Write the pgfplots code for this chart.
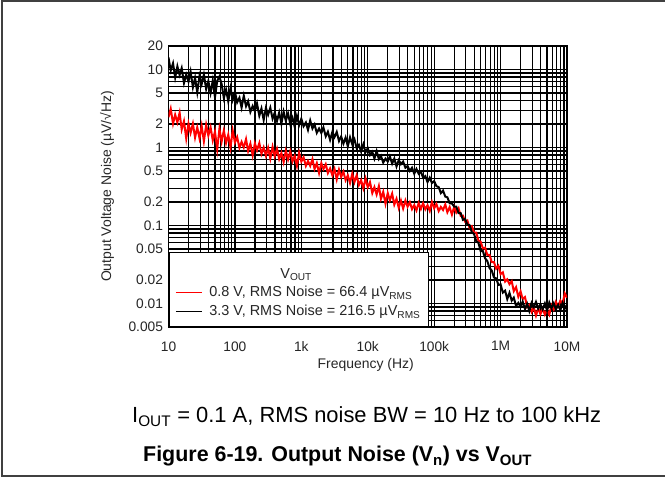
\documentclass[border=0pt]{standalone}
\usepackage{fontspec}
\setmainfont{Liberation Sans}
\usepackage{pgfplots}
\usepackage{pgfplotstable}
\pgfplotsset{compat=1.18}

% f (Hz), b = 3.3 V, r = 0.8 V  (uV/rtHz)
\pgfplotstableread{
f b r
10 14.2 2.44
10.8 9.7 3.13
11.7 12.0 2.02
12.6 7.9 2.63
13.6 11.0 2.10
14.7 8.5 2.79
15.8 10.4 1.70
17.1 6.7 2.17
18.5 8.6 1.30
20.0 7.0 2.02
21.5 9.4 1.54
23.3 5.9 2.02
25.1 7.8 1.34
27.1 5.1 1.81
29.3 8.3 1.31
31.6 6.5 1.89
34.1 8.6 1.20
36.9 5.6 1.95
39.8 7.1 1.42
43.0 5.0 1.82
46.4 7.2 1.23
50.1 4.4 1.60
54.1 7.1 0.95
58.4 8.1 1.73
63.1 6.5 1.19
68.1 4.3 1.65
73.6 5.5 1.14
79.4 3.9 1.46
85.8 5.8 1.00
92.6 4.1 1.65
100 5.2 1.16
108 3.79 1.36
117 4.34 0.99
126 3.25 1.18
136 4.6 1.00
147 3.38 1.28
158 3.92 0.90
171 2.85 1.12
185 3.4 0.79
200 2.92 1.13
215 3.66 0.92
233 2.55 1.14
251 3.16 0.83
271 2.25 1.00
293 3.22 0.78
316 2.63 0.99
341 3.23 0.72
369 2.34 1.02
398 2.8 0.77
430 2.18 0.96
464 2.8 0.71
501 2.02 0.85
541 2.88 0.65
584 2.2 0.91
631 2.73 0.70
681 2.0 0.89
736 2.4 0.66
794 1.85 0.78
858 2.53 0.58
926 1.93 0.86
1000 2.33 0.66
1080 1.87 0.75
1170 2.09 0.58
1260 1.68 0.67
1360 2.22 0.58
1470 1.75 0.71
1580 1.97 0.53
1710 1.54 0.63
1850 1.75 0.47
2000 1.53 0.63
2150 1.81 0.53
2330 1.39 0.61
2510 1.59 0.47
2710 1.25 0.54
2930 1.58 0.44
3160 1.36 0.53
3410 1.58 0.39
3690 1.21 0.52
3980 1.38 0.42
4300 1.12 0.49
4640 1.34 0.38
5010 1.04 0.44
5410 1.35 0.35
5840 1.10 0.46
6310 1.27 0.36
6810 0.98 0.44
7360 1.08 0.33
7940 0.89 0.38
8580 1.10 0.30
9260 0.87 0.40
10000 0.98 0.31
10800 0.80 0.36
11700 0.88 0.26
12600 0.72 0.31
13600 0.90 0.25
14700 0.71 0.32
15800 0.78 0.22
17100 0.64 0.27
18500 0.72 0.19
20000 0.66 0.26
21500 0.77 0.21
23300 0.62 0.256
25100 0.72 0.185
27100 0.57 0.22
29300 0.69 0.168
31600 0.61 0.209
34100 0.66 0.165
36900 0.55 0.209
39800 0.58 0.174
43000 0.50 0.199
46400 0.55 0.162
50100 0.46 0.183
54100 0.53 0.156
58400 0.46 0.194
63100 0.49 0.163
68100 0.41 0.193
73600 0.43 0.161
79400 0.36 0.182
85800 0.41 0.154
92600 0.35 0.20
100000 0.37 0.166
108000 0.32 0.189
117000 0.31 0.153
126000 0.26 0.173
136000 0.28 0.158
147000 0.235 0.186
158000 0.23 0.148
171000 0.193 0.172
185000 0.192 0.138
200000 0.175 0.173
215000 0.175 0.147
233000 0.144 0.166
251000 0.144 0.133
271000 0.118 0.134
293000 0.121 0.112
316000 0.103 0.116
341000 0.101 0.093
369000 0.082 0.098
398000 0.078 0.081
430000 0.063 0.081
464000 0.060 0.064
501000 0.047 0.062
541000 0.047 0.051
584000 0.038 0.052
631000 0.035 0.042
681000 0.0285 0.042
736000 0.0265 0.034
794000 0.0216 0.034
858000 0.021 0.028
926000 0.0173 0.0305
1e6 0.0176 0.0238
1.08e6 0.0138 0.0251
1.17e6 0.0146 0.0191
1.26e6 0.0114 0.0204
1.36e6 0.0137 0.0177
1.47e6 0.0109 0.0193
1.58e6 0.0119 0.0144
1.71e6 0.0093 0.0162
1.85e6 0.0102 0.0122
2.00e6 0.0091 0.0143
2.15e6 0.0106 0.0114
2.33e6 0.0085 0.0121
2.51e6 0.0099 0.0090
2.71e6 0.0080 0.0096
2.93e6 0.0102 0.0078
3.16e6 0.0090 0.0089
3.41e6 0.0105 0.0070
3.69e6 0.0086 0.0087
3.98e6 0.0098 0.0073
4.30e6 0.0084 0.0086
4.64e6 0.0100 0.0072
5.01e6 0.0081 0.0083
5.41e6 0.0103 0.0072
5.84e6 0.0087 0.0095
6.31e6 0.0101 0.0084
6.81e6 0.0084 0.0105
7.36e6 0.0096 0.0092
7.94e6 0.0082 0.0109
8.58e6 0.0102 0.0099
9.26e6 0.0086 0.0135
1e7 0.0097 0.0119
}\noisedata

\begin{document}
\begin{tikzpicture}[x=1bp,y=1bp]
\useasboundingbox (0,0) rectangle (665,477);
% figure frame
\draw[line width=1.2bp,black!75] (670,476) -- (2,476) -- (2,1) -- (670,1);

\begin{axis}[
  at={(168.5bp,150bp)}, anchor=south west,
  scale only axis, width=398.5bp, height=281bp,
  xmode=log, ymode=log,
  xmin=10, xmax=1e7, ymin=0.005, ymax=20,
  xtick={10,100,1000,10000,100000,1000000,10000000},
  xticklabels={10,100,1k,10k,100k,1M,10M},
  ytick={0.005,0.01,0.02,0.05,0.1,0.2,0.5,1,2,5,10,20},
  yticklabels={0.005,0.01,0.02,0.05,0.1,0.2,0.5,1,2,5,10,20},
  minor xtick={20,30,40,50,60,70,80,90,200,300,400,500,600,700,800,900,
    2000,3000,4000,5000,6000,7000,8000,9000,2e4,3e4,4e4,5e4,6e4,7e4,8e4,9e4,
    2e5,3e5,4e5,5e5,6e5,7e5,8e5,9e5,2e6,3e6,4e6,5e6,6e6,7e6,8e6,9e6},
  minor ytick={0.006,0.007,0.008,0.009,0.03,0.04,0.06,0.07,0.08,0.09,
    0.3,0.4,0.6,0.7,0.8,0.9,3,4,6,7,8,9},
  grid=both,
  major grid style={black, line width=1.2bp},
  minor grid style={black, line width=1.2bp},
  tick style={draw=none},
  axis line style={black, line width=1.4bp},
  tick label style={font=\fontsize{13.8}{16}\selectfont, text=black!85},
  yticklabel style={xshift=-2bp},
  xticklabel style={yshift=-11bp},
  label style={font=\fontsize{14}{16}\selectfont, text=black!85},
  xlabel={Frequency (Hz)},
  ylabel={Output Voltage Noise (µV/√Hz)},
  xlabel style={at={(axis description cs:0.495,-0.1345)}, anchor=center},
  ylabel style={at={(axis description cs:-0.154,0.5)}, anchor=center},
  legend style={at={(0,0)}, anchor=south west, draw=black, line width=1.2bp,
    fill=white, font=\fontsize{14.5}{17}\selectfont, text=black!85,
    inner xsep=6bp, inner ysep=7bp, row sep=3bp, column sep=5bp},
  legend cell align=left,
  legend image code/.code={\draw[#1, line width=1.3bp] (0bp,0bp) -- (26bp,0bp);},
]
\addlegendimage{empty legend}
\addlegendentry{\hspace*{71bp}\rule{0pt}{16.5bp}V\textsubscript{OUT}}
\addplot[red, line width=2bp] table[x=f, y=r] {\noisedata};
\addlegendentry{0.8 V, RMS Noise = 66.4 µV\textsubscript{RMS}}
\addplot[black, line width=2bp] table[x=f, y=b] {\noisedata};
\addlegendentry{3.3 V, RMS Noise = 216.5 µV\textsubscript{RMS}}
\end{axis}

\node[anchor=base west, font=\fontsize{22}{24}\selectfont, inner sep=0pt]
  at (132,54) {I\textsubscript{OUT} = 0.1 A, RMS noise BW = 10 Hz to 100 kHz};
\node[anchor=base west, font=\fontsize{21.5}{24}\selectfont\bfseries, inner sep=0pt]
  at (143,15) {Figure 6-19. Output Noise (V\textsubscript{n}) vs V\textsubscript{OUT}};
\end{tikzpicture}
\end{document}
